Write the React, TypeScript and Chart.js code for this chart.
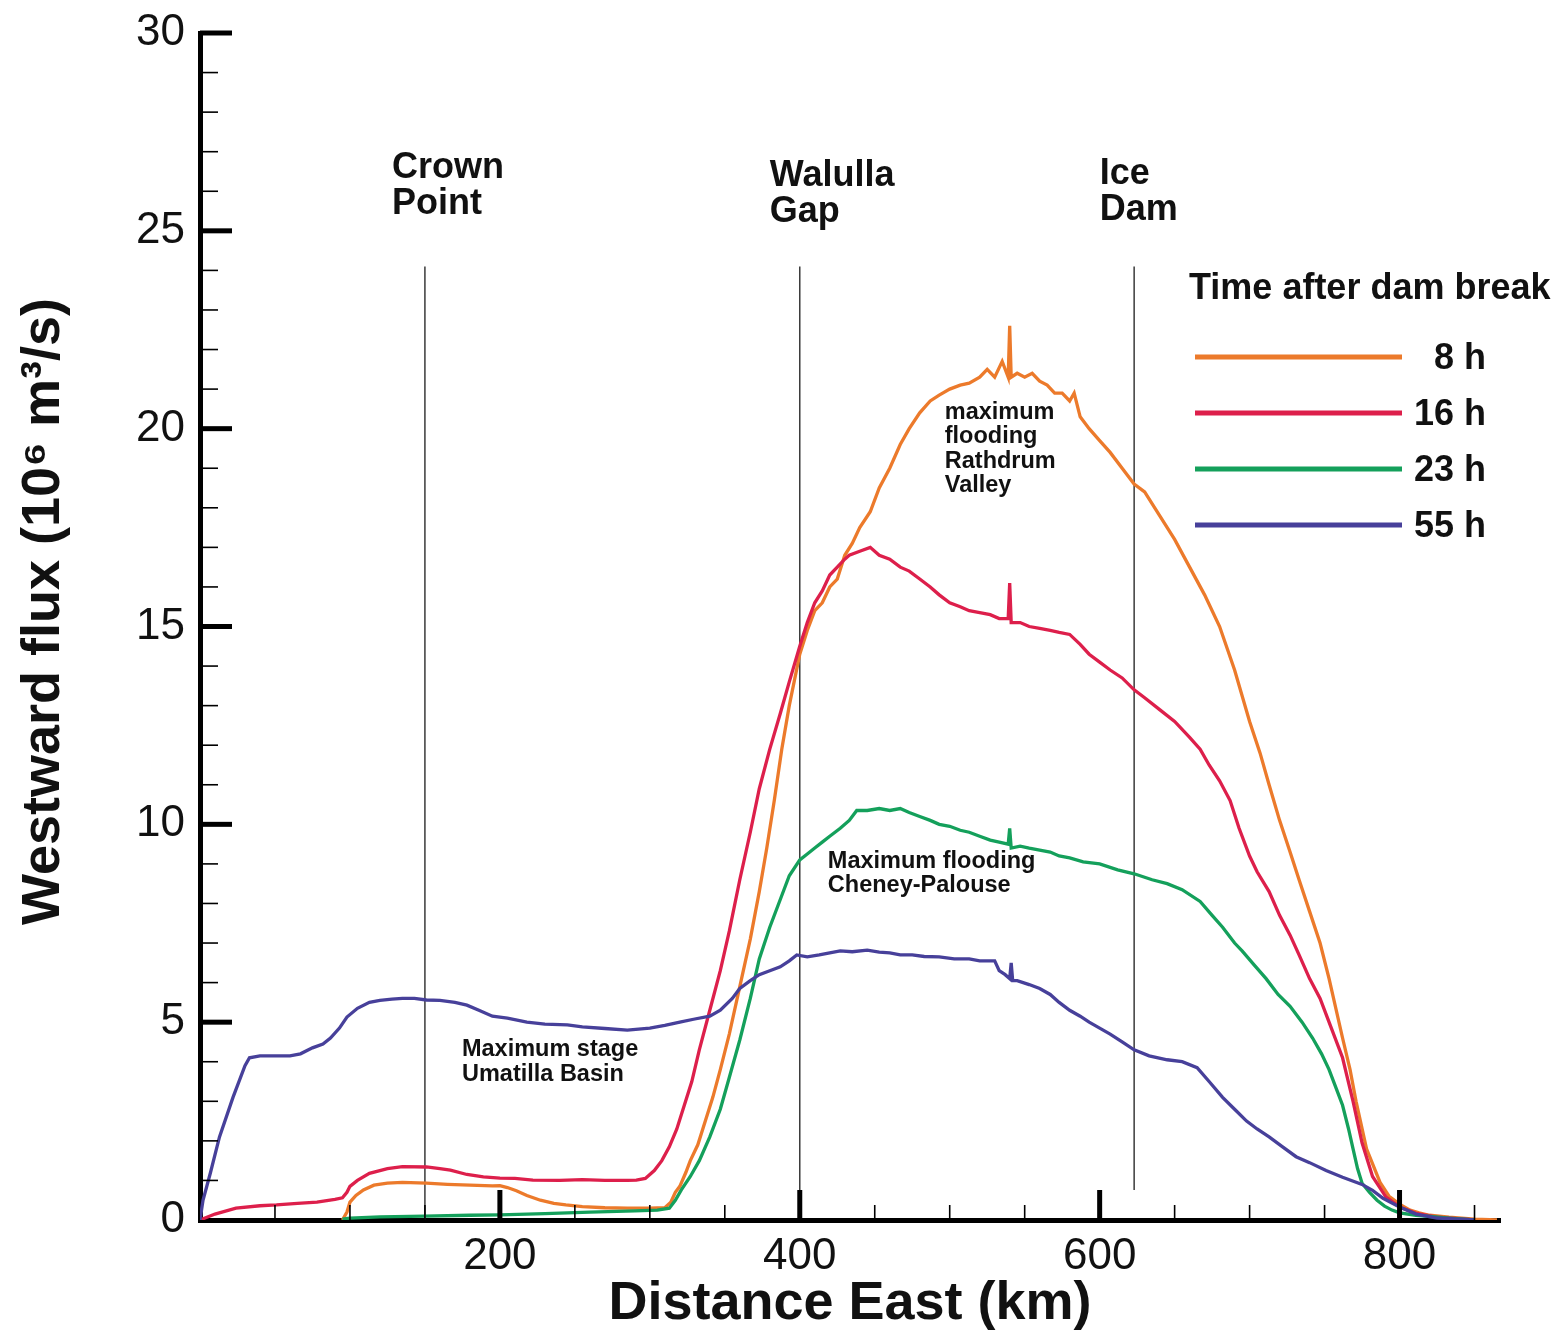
import React, { useEffect, useRef } from 'react';
import { Chart, registerables } from 'chart.js';

Chart.register(...registerables);

// ---------- data ----------
const seriesLabels = ['8 h', '16 h', '23 h', '55 h'];
const seriesColors = ['#EC7A2B', '#DD1F4B', '#14A05B', '#47409A'];

const flux8h: [number, number][] = [
  [95, 0], [98, 0.2], [100, 0.45], [104, 0.62], [109, 0.76], [116, 0.88], [125, 0.93], [135, 0.95], [151, 0.93],
  [165, 0.9], [180, 0.88], [195, 0.86], [200, 0.87], [205, 0.82], [211, 0.74], [218, 0.62], [227, 0.5], [236, 0.42],
  [244, 0.38], [255, 0.34], [270, 0.31], [285, 0.3], [300, 0.3], [310, 0.31], [314, 0.45], [317, 0.7], [320, 0.85],
  [324, 1.2], [327, 1.5], [332, 1.9], [337, 2.5], [342, 3.1], [347, 3.8], [353, 4.7], [360, 5.9], [367, 7.1],
  [373, 8.3], [378, 9.4], [383, 10.6], [388, 11.9], [393, 13.0], [400, 14.3], [405, 14.9], [410, 15.4], [415, 15.6],
  [420, 16.0], [425, 16.2], [430, 16.8], [435, 17.1], [440, 17.5], [447, 17.9], [453, 18.5], [460, 19.0], [467, 19.6],
  [473, 20.0], [480, 20.4], [487, 20.7], [493, 20.85], [500, 21.0], [507, 21.1], [513, 21.15], [520, 21.3], [525, 21.5],
  [530, 21.3], [535, 21.7], [539, 21.3], [540, 22.6], [541, 21.3], [545, 21.4], [550, 21.3], [555, 21.4], [560, 21.2],
  [565, 21.1], [570, 20.9], [575, 20.9], [580, 20.7], [583, 20.9], [587, 20.3], [593, 20.0], [600, 19.7], [607, 19.4],
  [615, 19.0], [623, 18.6], [630, 18.4], [640, 17.8], [650, 17.2], [660, 16.5], [670, 15.8], [680, 15.0], [690, 13.9],
  [700, 12.6], [707, 11.8], [713, 11.0], [720, 10.1], [727, 9.3], [733, 8.6], [740, 7.8], [747, 7.0], [753, 6.1],
  [762, 4.6], [767, 3.8], [771, 3.0], [778, 1.8], [787, 0.95], [793, 0.6], [800, 0.4], [807, 0.25], [813, 0.18],
  [820, 0.12], [833, 0.07], [850, 0.02], [865, 0],
];

const flux16h: [number, number][] = [
  [0, 0], [10, 0.15], [24, 0.3], [40, 0.36], [51, 0.38], [65, 0.42], [78, 0.45], [90, 0.52], [95, 0.56], [98, 0.7],
  [100, 0.85], [105, 1.0], [113, 1.18], [125, 1.3], [135, 1.35], [151, 1.34], [160, 1.3], [167, 1.26], [178, 1.15],
  [189, 1.09], [200, 1.06], [210, 1.05], [222, 1.01], [240, 1.0], [255, 1.02], [270, 1.0], [285, 1.0], [291, 1.01],
  [297, 1.05], [303, 1.25], [308, 1.5], [313, 1.85], [318, 2.3], [323, 2.9], [328, 3.5], [333, 4.3], [340, 5.3],
  [347, 6.3], [353, 7.3], [360, 8.6], [367, 9.8], [373, 10.9], [380, 11.9], [387, 12.8], [393, 13.6], [400, 14.5],
  [405, 15.1], [410, 15.6], [415, 15.9], [420, 16.3], [425, 16.5], [430, 16.7], [433, 16.8], [440, 16.9], [447, 17.0],
  [453, 16.8], [460, 16.7], [467, 16.5], [473, 16.4], [480, 16.2], [487, 16.0], [493, 15.8], [500, 15.6], [507, 15.5],
  [513, 15.4], [520, 15.35], [527, 15.3], [533, 15.2], [539, 15.2], [540, 16.1], [541, 15.1], [547, 15.1], [553, 15.0],
  [560, 14.95], [567, 14.9], [573, 14.85], [580, 14.8], [587, 14.55], [593, 14.3], [600, 14.1], [607, 13.9], [615, 13.7],
  [623, 13.4], [630, 13.2], [640, 12.9], [650, 12.6], [660, 12.2], [667, 11.9], [673, 11.5], [680, 11.1], [687, 10.6],
  [693, 9.9], [700, 9.2], [705, 8.8], [713, 8.3], [720, 7.7], [727, 7.2], [733, 6.7], [740, 6.1], [747, 5.6],
  [753, 5.0], [762, 4.1], [769, 3.0], [775, 1.95], [782, 1.1], [791, 0.58], [800, 0.33], [811, 0.17], [825, 0.07],
  [850, 0],
];

const flux23h: [number, number][] = [
  [95, 0.02], [100, 0.05], [120, 0.08], [150, 0.1], [180, 0.12], [200, 0.13], [230, 0.16], [260, 0.2], [290, 0.23],
  [305, 0.25], [313, 0.3], [317, 0.5], [321, 0.76], [327, 1.1], [333, 1.5], [340, 2.1], [347, 2.8], [353, 3.6],
  [360, 4.55], [367, 5.6], [373, 6.6], [380, 7.4], [387, 8.1], [393, 8.7], [400, 9.1], [405, 9.25], [410, 9.4],
  [415, 9.55], [420, 9.7], [427, 9.9], [433, 10.1], [438, 10.35], [445, 10.35], [453, 10.4], [460, 10.35], [467, 10.4],
  [473, 10.3], [480, 10.2], [487, 10.1], [493, 10.0], [500, 9.95], [507, 9.85], [513, 9.8], [520, 9.7], [527, 9.6],
  [533, 9.55], [539, 9.5], [540, 9.9], [541, 9.4], [547, 9.45], [553, 9.4], [560, 9.35], [567, 9.3], [573, 9.2],
  [580, 9.15], [589, 9.05], [600, 9.0], [612, 8.85], [623, 8.75], [635, 8.6], [645, 8.5], [655, 8.35], [667, 8.05],
  [675, 7.7], [682, 7.4], [690, 7.0], [695, 6.8], [703, 6.45], [711, 6.1], [719, 5.7], [727, 5.4], [735, 5.0],
  [742, 4.6], [748, 4.2], [753, 3.8], [758, 3.3], [762, 2.9], [766, 2.3], [769, 1.8], [772, 1.3], [775, 0.93],
  [780, 0.7], [785, 0.5], [790, 0.35], [795, 0.25], [800, 0.18], [811, 0.12], [833, 0.05], [850, 0],
];

const flux55h: [number, number][] = [
  [0, 0], [2, 0.5], [7, 1.2], [13, 2.1], [22, 3.1], [30, 3.9], [33, 4.1], [40, 4.15], [50, 4.15], [60, 4.15],
  [67, 4.2], [75, 4.35], [82, 4.45], [87, 4.6], [93, 4.85], [98, 5.13], [105, 5.35], [113, 5.5], [120, 5.55],
  [128, 5.58], [135, 5.6], [143, 5.6], [151, 5.56], [160, 5.55], [170, 5.5], [178, 5.43], [186, 5.3], [195, 5.15],
  [205, 5.1], [218, 5.0], [230, 4.95], [245, 4.93], [255, 4.88], [270, 4.84], [285, 4.8], [300, 4.85], [310, 4.92],
  [320, 5.0], [330, 5.08], [340, 5.15], [347, 5.3], [355, 5.6], [360, 5.85], [367, 6.05], [373, 6.2], [380, 6.3],
  [387, 6.4], [393, 6.55], [398, 6.7], [405, 6.65], [413, 6.7], [420, 6.75], [427, 6.8], [435, 6.78], [445, 6.82],
  [453, 6.77], [460, 6.75], [467, 6.7], [475, 6.7], [483, 6.66], [493, 6.65], [503, 6.6], [513, 6.6], [520, 6.55],
  [527, 6.55], [530, 6.55], [533, 6.3], [537, 6.2], [540, 6.1], [541, 6.5], [542, 6.05], [545, 6.05], [553, 5.95],
  [560, 5.85], [567, 5.7], [573, 5.5], [580, 5.3], [587, 5.15], [593, 5.0], [600, 4.85], [607, 4.7], [615, 4.5],
  [623, 4.3], [633, 4.15], [645, 4.05], [655, 4.0], [665, 3.85], [673, 3.5], [682, 3.1], [690, 2.8], [698, 2.5],
  [705, 2.3], [713, 2.1], [722, 1.85], [731, 1.6], [740, 1.45], [751, 1.25], [762, 1.08], [775, 0.9], [782, 0.75],
  [789, 0.55], [800, 0.33], [811, 0.15], [825, 0.05], [850, 0],
];

const allSeries = [flux8h, flux16h, flux23h, flux55h];

const xTickLabels = [200, 400, 600, 800];
const yTickLabels = [0, 5, 10, 15, 20, 25, 30];

// site marker lines (km) and their labels
const siteKm = [150, 400, 623];
const siteLineTop = 24.1;
const siteLineBottom = [0, 0, 0.76];
const siteLabels = [['Crown', 'Point'], ['Walulla', 'Gap'], ['Ice', 'Dam']];
const siteLabelKm = [128, 380, 600];
const siteLabelFlux = [26.33, 26.13, 26.18];

// in-plot notes
const noteLines = [
  ['maximum', 'flooding', 'Rathdrum', 'Valley'],
  ['Maximum flooding', 'Cheney-Palouse'],
  ['Maximum stage', 'Umatilla Basin'],
];
const noteKm = [496.7, 418.7, 174.7];
const noteFlux = [20.25, 8.9, 4.14];

const legendTitle = 'Time after dam break';

const FONT = '"Liberation Sans", Arial, Helvetica, sans-serif';

const overlay = {
  id: 'overlay',
  beforeDatasetsDraw(chart: any) {
    const { ctx } = chart;
    const xs = chart.scales.x;
    const ys = chart.scales.y;
    ctx.save();
    ctx.strokeStyle = '#3a3a3a';
    ctx.lineWidth = 1.5;
    siteKm.forEach((km, i) => {
      const px = xs.getPixelForValue(km);
      ctx.beginPath();
      ctx.moveTo(px, ys.getPixelForValue(siteLineTop));
      ctx.lineTo(px, ys.getPixelForValue(siteLineBottom[i]));
      ctx.stroke();
    });
    ctx.restore();
  },
  afterDraw(chart: any) {
    const { ctx } = chart;
    const xs = chart.scales.x;
    const ys = chart.scales.y;
    const area = chart.chartArea;
    ctx.save();
    ctx.strokeStyle = '#000';
    // x ticks (inward)
    for (let v = 50; v <= 850; v += 50) {
      const px = xs.getPixelForValue(v);
      const major = xTickLabels.includes(v);
      ctx.lineWidth = major ? 5 : 1.6;
      ctx.beginPath();
      ctx.moveTo(px, area.bottom);
      ctx.lineTo(px, area.bottom - (major ? 30 : 15));
      ctx.stroke();
    }
    // y ticks (inward)
    for (let v = 1; v <= 30; v += 1) {
      const py = ys.getPixelForValue(v);
      const major = yTickLabels.includes(v);
      ctx.lineWidth = major ? 5 : 1.6;
      ctx.beginPath();
      ctx.moveTo(area.left, py);
      ctx.lineTo(area.left + (major ? 32 : 18), py);
      ctx.stroke();
    }

    ctx.fillStyle = '#111';
    ctx.textAlign = 'left';
    ctx.textBaseline = 'alphabetic';
    // site labels
    ctx.font = `bold 36px ${FONT}`;
    siteLabels.forEach((lines, i) => {
      const px = xs.getPixelForValue(siteLabelKm[i]);
      const py = ys.getPixelForValue(siteLabelFlux[i]);
      lines.forEach((t, j) => ctx.fillText(t, px, py + j * 36));
    });
    // notes
    ctx.font = `bold 23.5px ${FONT}`;
    noteLines.forEach((lines, i) => {
      const px = xs.getPixelForValue(noteKm[i]);
      const py = ys.getPixelForValue(noteFlux[i]);
      lines.forEach((t, j) => ctx.fillText(t, px, py + j * 24.5));
    });

    // legend
    ctx.font = `bold 36px ${FONT}`;
    ctx.textBaseline = 'middle';
    ctx.fillText(legendTitle, 1189, 289);
    chart.data.datasets.forEach((ds: any, i: number) => {
      const y = 357 + i * 56;
      ctx.strokeStyle = ds.borderColor;
      ctx.lineWidth = 5;
      ctx.beginPath();
      ctx.moveTo(1195, y);
      ctx.lineTo(1402, y);
      ctx.stroke();
      ctx.textAlign = 'right';
      ctx.fillStyle = '#111';
      ctx.fillText(ds.label, 1486, y + 2);
    });
    ctx.restore();
  },
};

export default function App() {
  const ref = useRef<HTMLCanvasElement>(null);
  useEffect(() => {
    if (!ref.current) return;
    const chart = new Chart(ref.current, {
      type: 'line',
      data: {
        datasets: allSeries.map((s, i) => ({
          label: seriesLabels[i],
          data: s.map(([x, y]) => ({ x, y })),
          borderColor: seriesColors[i],
          backgroundColor: seriesColors[i],
          borderWidth: 3.3,
          pointRadius: 0,
          tension: 0,
          fill: false,
          order: 4 - i,
        })),
      },
      options: {
        responsive: false,
        animation: false,
        devicePixelRatio: 1,
        layout: { padding: { top: 33, right: 60, left: 0, bottom: 0 } },
        plugins: { legend: { display: false }, tooltip: { enabled: false } },
        scales: {
          x: {
            type: 'linear',
            min: 0,
            max: 867,
            border: { display: true, width: 5, color: '#000' },
            grid: { display: false, drawTicks: false },
            ticks: {
              stepSize: 50,
              autoSkip: false,
              maxRotation: 0,
              padding: 10,
              color: '#111',
              font: { family: FONT, size: 44 },
              callback: (v: any) => (xTickLabels.includes(Number(v)) ? String(v) : ''),
            },
            title: {
              display: true,
              text: 'Distance East (km)',
              color: '#111',
              font: { family: FONT, size: 54, weight: 'bold' },
              padding: { top: 0, bottom: -2 },
            },
            afterFit: (s: any) => {
              s.height = 115;
              s.paddingLeft = 0;
              s.paddingRight = 0;
            },
          },
          y: {
            type: 'linear',
            min: 0,
            max: 30,
            border: { display: true, width: 5, color: '#000' },
            grid: { display: false, drawTicks: false },
            ticks: {
              stepSize: 1,
              autoSkip: false,
              padding: 15,
              color: '#111',
              font: { family: FONT, size: 44 },
              callback: (v: any) => (yTickLabels.includes(Number(v)) ? String(v) : ''),
            },
            title: {
              display: true,
              text: '\u00A0\u00A0Westward flux (10⁶ m³/s)',
              color: '#111',
              font: { family: FONT, size: 54, weight: 'bold' },
              padding: { top: 12, bottom: 0 },
            },
            afterFit: (s: any) => {
              s.width = 200;
              s.paddingTop = 0;
              s.paddingBottom = 0;
            },
          },
        },
      },
      plugins: [overlay],
    } as any);
    return () => chart.destroy();
  }, []);
  return (
    <div style={{ position: 'absolute', left: 0, top: 0, width: 1560, height: 1335, background: '#fff' }}>
      <canvas ref={ref} width={1560} height={1335} style={{ width: 1560, height: 1335, display: 'block' }} />
    </div>
  );
}
